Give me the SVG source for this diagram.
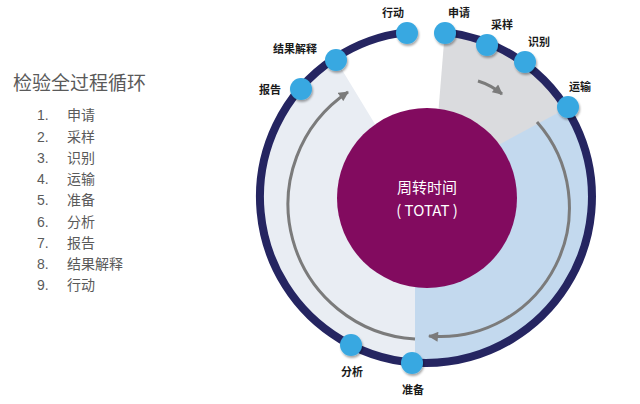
<svg xmlns="http://www.w3.org/2000/svg" width="640" height="404" viewBox="0 0 640 404">
<defs>
<style>
.lst{font-family:"Noto Sans CJK SC","Noto Sans",sans-serif;font-size:14px;fill:#5a5a5a}
.num{font-family:"Liberation Sans","Noto Sans",sans-serif;font-size:14px;fill:#5a5a5a}
.lbl{font-family:"Noto Sans CJK SC",sans-serif;font-size:11px;font-weight:bold;fill:#1a1a1a;text-anchor:middle}
.node{fill:#38a8e1;filter:url(#sh)}
.arr{fill:none;stroke:#7b7b7b;stroke-width:3;marker-end:url(#ah)}
.ctr{font-family:"Noto Sans CJK SC","Liberation Sans",sans-serif;font-size:15px;fill:#ffffff;text-anchor:middle}
</style>
<filter id="sh" x="-50%" y="-50%" width="200%" height="200%">
<feDropShadow dx="1" dy="2" stdDeviation="1.2" flood-color="#000" flood-opacity="0.35"/>
</filter>
<marker id="ah" viewBox="0 0 10 10" markerUnits="userSpaceOnUse" markerWidth="11" markerHeight="10" refX="9" refY="5" orient="auto">
<path d="M0,0 L10,5 L0,10 z" fill="#7b7b7b"/>
</marker>
</defs>
<rect width="640" height="404" fill="#ffffff"/>

<g id="legend">
<text x="13" y="90" font-family="Noto Sans CJK SC, sans-serif" font-size="19" fill="#5a5a5a">检验全过程循环</text>
<text class="num" x="37" y="120">1.</text><text class="lst" x="67" y="120">申请</text>
<text class="num" x="37" y="142">2.</text><text class="lst" x="67" y="142">采样</text>
<text class="num" x="37" y="163">3.</text><text class="lst" x="67" y="163">识别</text>
<text class="num" x="37" y="184">4.</text><text class="lst" x="67" y="184">运输</text>
<text class="num" x="37" y="205">5.</text><text class="lst" x="67" y="205">准备</text>
<text class="num" x="37" y="227">6.</text><text class="lst" x="67" y="227">分析</text>
<text class="num" x="37" y="248">7.</text><text class="lst" x="67" y="248">报告</text>
<text class="num" x="37" y="269">8.</text><text class="lst" x="67" y="269">结果解释</text>
<text class="num" x="37" y="290">9.</text><text class="lst" x="67" y="290">行动</text>
</g>

<g id="sectors">
<path d="M432,190 L444.6,35.1 A163,163 0 0 1 563.7,109.7 Z" fill="#dadbde"/>
<path d="M415,190 L563.7,109.7 A163,163 0 0 1 415,359.6 Z" fill="#c3d9ee"/>
<path d="M415,190 L415,359.6 A163,163 0 0 1 336.5,60.7 Z" fill="#e9edf3"/>
</g>

<g id="ring">
<path d="M445,32.1 A166,166 0 1 1 406.9,32.1" fill="none" stroke="#252561" stroke-width="8"/>
</g>

<g id="connectors">
<path class="arr" d="M415,339 A135,135 0 0 1 348,92"/>
<path class="arr" d="M537,122 A129,129 0 0 1 429,336"/>
<path class="arr" d="M478,81 Q491,85 502,94"/>
</g>

<g id="center">
<circle cx="427" cy="198" r="90" fill="#820b5f"/>
<text class="ctr" x="427" y="193">周转时间</text>
<text class="ctr" x="427" y="216">( TOTAT )</text>
</g>

<g id="n-xingdong"><circle class="node" cx="407" cy="33" r="11"/><text class="lbl" x="393" y="17">行动</text></g>
<g id="n-shenqing"><circle class="node" cx="445" cy="33" r="11"/><text class="lbl" x="459" y="17">申请</text></g>
<g id="n-caiyang"><circle class="node" cx="487" cy="45" r="11"/><text class="lbl" x="502" y="29">采样</text></g>
<g id="n-shibie"><circle class="node" cx="525" cy="62" r="11"/><text class="lbl" x="539" y="46">识别</text></g>
<g id="n-yunshu"><circle class="node" cx="568" cy="107" r="11"/><text class="lbl" x="580" y="91">运输</text></g>
<g id="n-zhunbei"><circle class="node" cx="412" cy="363" r="11"/><text class="lbl" x="413" y="394">准备</text></g>
<g id="n-fenxi"><circle class="node" cx="351" cy="345" r="11"/><text class="lbl" x="352" y="376">分析</text></g>
<g id="n-baogao"><circle class="node" cx="301" cy="89" r="11"/><text class="lbl" x="270" y="94">报告</text></g>
<g id="n-jieguo"><circle class="node" cx="336" cy="60" r="11"/><text class="lbl" x="295" y="53">结果解释</text></g>
</svg>
